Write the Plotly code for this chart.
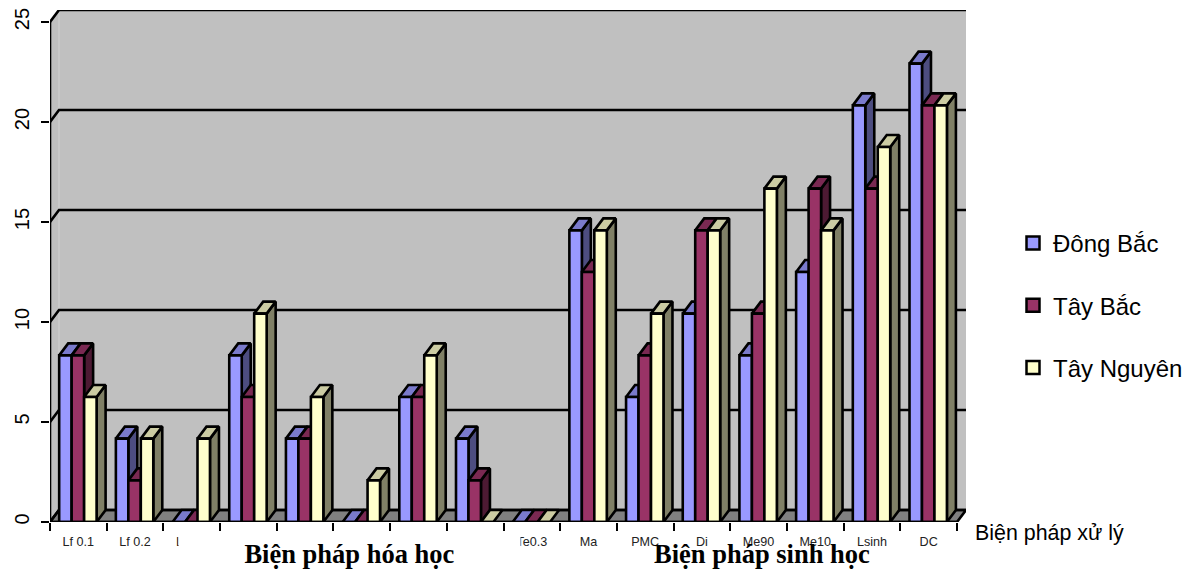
import plotly.graph_objects as go

categories = ["Lf 0.1", "Lf 0.2", "Lf 0.3", "", "", "", "", "", "Te0.3", "Ma", "PMC", "Di", "Me90", "Me10", "Lsinh", "DC"]
dong_bac = [8.33, 4.17, 0, 8.33, 4.17, 0, 6.25, 4.17, 0, 14.58, 6.25, 10.42, 8.33, 12.5, 20.83, 22.92]
tay_bac = [8.33, 2.08, 0, 6.25, 4.17, 0, 6.25, 2.08, 0, 12.5, 8.33, 14.58, 10.42, 16.67, 16.67, 20.83]
tay_nguyen = [6.25, 4.17, 4.17, 10.42, 6.25, 2.08, 8.33, 0, 0, 14.58, 10.42, 14.58, 16.67, 14.58, 18.75, 20.83]
y_ticks = [0, 5, 10, 15, 20, 25]

series = [
    ("Đông Bắc", dong_bac, "#9999FF", "#7A7ACC", "#4D4D80"),
    ("Tây Bắc", tay_bac, "#993366", "#7A2952", "#4D1A33"),
    ("Tây Nguyên", tay_nguyen, "#FFFFCC", "#CCCCA3", "#808066"),
]

# Geometry of the oblique projection, in axis units
PX_X, PX_Y = 56.7, 20.0
DX, DY = 9 / PX_X, 12 / PX_Y
GROUP_OFFSET, BAR_W = 0.162, 0.22
L, T, PLOT_W, PLOT_H = 50, 10, 916, 512
LW = 2.6
n = len(categories)

fig = go.Figure()


def poly(xs, ys, fill=None, width=LW, color="black"):
    kw = dict(fill="toself", fillcolor=fill) if fill else {}
    fig.add_trace(go.Scatter(x=xs, y=ys, mode="lines", line=dict(color=color, width=width),
                             hoverinfo="skip", showlegend=False, cliponaxis=False, **kw))


top = y_ticks[-1]
# Walls and floor
poly([DX, n + DX, n + DX, DX, DX], [DY, DY, top + DY, top + DY, DY], "#C0C0C0", 0, "#C0C0C0")
poly([0, DX, DX, 0, 0], [0, DY, top + DY, top, 0], "#C0C0C0", 0, "#C0C0C0")
poly([DX, DX], [DY, top + DY], None, 1, "#D2D2D2")
poly([0, n, n + DX, DX, 0], [0, 0, DY, DY, 0], "#808080")
for v in y_ticks:
    poly([0, DX, n + DX], [v, v + DY, v + DY])

# Bars: front, top and side faces, left to right
for i in range(n):
    for j, (_, vals, front, lid, side) in enumerate(series):
        x0 = i + GROUP_OFFSET + j * BAR_W
        x1 = x0 + BAR_W
        v = vals[i]
        if v > 0:
            poly([x1, x1 + DX, x1 + DX, x1, x1], [0, DY, v + DY, v, 0], side)
        poly([x0, x1, x1 + DX, x0 + DX, x0], [v, v, v + DY, v + DY, v], lid)
        if v > 0:
            poly([x0, x1, x1, x0, x0], [0, 0, v, v, 0], front)

# Front axis lines
poly([0, 0], [0, top])
poly([0, n], [0, 0])

# Legend entries
for name, _, front, _, _ in series:
    fig.add_trace(go.Scatter(x=[None], y=[None], mode="markers", name=name, legendgroup=name,
                             marker=dict(symbol="square", size=13, color=front,
                                         line=dict(color="black", width=2.5)),
                             cliponaxis=False))


def px(x):
    return (x - L) / PLOT_W


def py(y):
    return (T + PLOT_H - y) / PLOT_H


annotations = [
    dict(xref="paper", yref="paper", x=px(178), y=py(532), xanchor="left", yanchor="top",
         width=341, height=36, bgcolor="white", showarrow=False, valign="bottom", align="center",
         borderpad=0, text="<b>Biện pháp hóa học</b>",
         font=dict(family="Liberation Serif", size=26.5, color="black")),
    dict(xref="paper", yref="paper", x=px(762), y=py(554), xanchor="center", yanchor="middle",
         showarrow=False, text="<b>Biện pháp sinh học</b>",
         font=dict(family="Liberation Serif", size=26.5, color="black")),
    dict(xref="paper", yref="paper", x=px(974), y=py(533), xanchor="left", yanchor="middle",
         showarrow=False, text="Biện pháp xử lý", borderpad=0,
         font=dict(family="Liberation Sans", size=21.4, color="black")),
]

fig.update_layout(
    template="none",
    width=1192, height=569, autosize=False,
    margin=dict(l=L, t=T, r=1192 - L - PLOT_W, b=569 - T - PLOT_H, pad=0),
    paper_bgcolor="white", plot_bgcolor="white",
    font=dict(family="Liberation Sans", color="black"),
    xaxis=dict(range=[0, n + DX], showgrid=False, zeroline=False, showline=False, automargin=False,
               tickmode="array", tickvals=[i + 0.5 for i in range(n)], ticktext=categories,
               ticks="", ticklabelstandoff=10, tickangle=0,
               tickfont=dict(size=12.6, color="#222222"),
               minor=dict(tickmode="array", tickvals=list(range(n + 1)), ticks="outside",
                          ticklen=8, tickwidth=2.4, tickcolor="black", showgrid=False)),
    yaxis=dict(range=[0, top + DY], showgrid=False, zeroline=False, showline=False, automargin=False,
               tickmode="array", tickvals=y_ticks, ticks="outside", ticklen=8, tickwidth=2.4,
               tickcolor="black", tickangle=-90, tickfont=dict(size=20, color="black"),
               ticklabelstandoff=4),
    legend=dict(xref="container", yref="container", x=1013 / 1192, y=1 - 221 / 569,
                xanchor="left", yanchor="top", tracegroupgap=28,
                font=dict(family="Liberation Sans", size=24, color="black"),
                bgcolor="rgba(0,0,0,0)", borderwidth=0),
    annotations=annotations,
    showlegend=True,
)

fig.write_html("out.html", config=dict(displayModeBar=False),
               post_script="document.body.style.margin='0';")
